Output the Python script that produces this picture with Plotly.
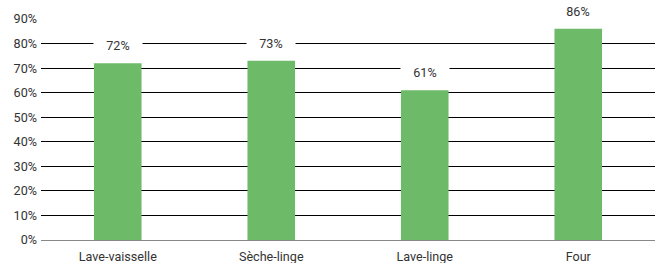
import plotly.graph_objects as go

categories = ["Lave-vaisselle", "Sèche-linge", "Lave-linge", "Four"]
values = [72, 73, 61, 86]
labels = ["72%", "73%", "61%", "86%"]
y_ticks = [0, 10, 20, 30, 40, 50, 60, 70, 80, 90]
y_ticklabels = [f"{v}%" for v in y_ticks]

fig = go.Figure()
fig.add_trace(go.Bar(x=categories, y=values, marker=dict(color="#6dbb68", line=dict(width=0)),
                     hoverinfo="skip"))

for c, v, t in zip(categories, values, labels):
    fig.add_annotation(x=c, y=v, text=t, showarrow=False, yshift=18, bgcolor="white",
                       width=46, height=16, font=dict(family="Roboto", size=12.6, color="#333333"))

fig.update_layout(
    width=660, height=263,
    margin=dict(l=41, r=5, t=19, b=23, autoexpand=False),
    paper_bgcolor="white", plot_bgcolor="white",
    bargap=0.69,
    showlegend=False,
    font=dict(family="Roboto", size=12.6, color="#333333"),
)
fig.update_yaxes(range=[0, 90], tickvals=y_ticks, ticktext=y_ticklabels, showgrid=True,
                 gridcolor="black", gridwidth=1, zeroline=False, ticks="", ticklen=0,
                 showline=False, automargin=False, ticklabelstandoff=3,
                 tickfont=dict(size=12.6, color="#333333"))
fig.update_xaxes(showline=True, linecolor="#888888", linewidth=1, ticks="", showgrid=False,
                 automargin=False, ticklabelstandoff=5,
                 tickfont=dict(size=12.6, color="#333333"))
fig.write_html("out.html", config={"displayModeBar": False},
               post_script="document.body.style.margin='0';document.body.style.overflow='hidden';")
